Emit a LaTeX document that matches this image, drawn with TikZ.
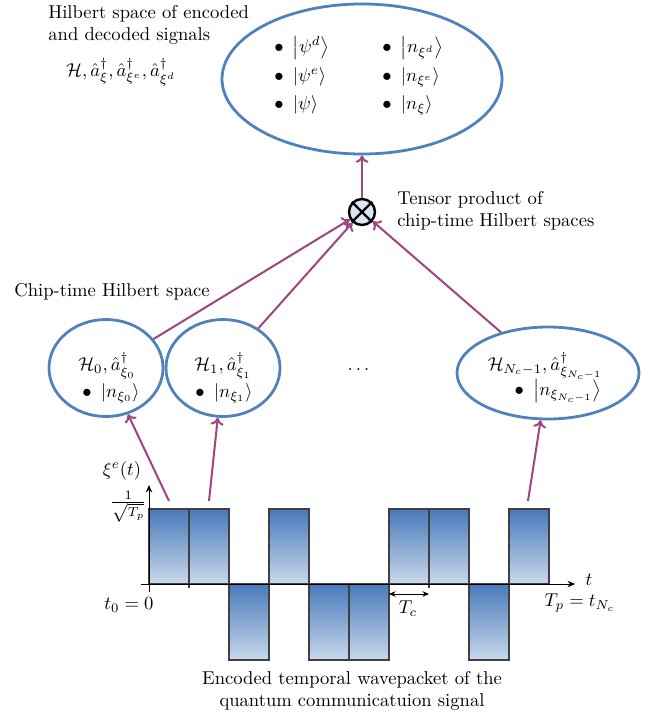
\documentclass[tikz,border=0pt]{standalone}
\usepackage{amsmath}
\usetikzlibrary{shapes.geometric,arrows.meta}
\definecolor{ellblue}{RGB}{79,129,189}
\definecolor{purp}{RGB}{158,72,128}
\definecolor{otfill}{RGB}{220,230,242}
\definecolor{bartop}{RGB}{72,122,186}
\definecolor{barbot}{RGB}{202,216,236}
\definecolor{barline}{RGB}{64,64,64}
\newdimen\pxu
\pxu=0.538pt
\tikzset{
  ell/.style={ellipse, draw=ellblue, line width=1.5pt, inner sep=0pt},
  parrow/.style={draw=purp, line width=1.1pt, -{To[length=4pt,width=7pt]}},
  bar/.style={draw=barline, line width=0.6pt, top color=bartop, bottom color=barbot},
  axis/.style={draw=black, line width=0.5pt, -{Stealth[length=4pt,width=3.5pt]}},
  lbl/.style={inner sep=0pt},
}
\begin{document}
\begin{tikzpicture}[x=0.538pt,y=-0.538pt]
\useasboundingbox (0,0) rectangle (652,715);

% big ellipse
\node[ell, minimum width={280*\pxu}, minimum height={150*\pxu}] (big) at (362,79) {};
\node[lbl, anchor=west] (p1) at (274,48) {$\bullet\ \left|\psi^d\right\rangle$};
\node[lbl, anchor=west] (p2) at (274,77) {$\bullet\ \left|\psi^e\right\rangle$};
\node[lbl, anchor=west] (p3) at (274,105) {$\bullet\ \left|\psi\right\rangle$};
\node[lbl, anchor=west] (n1) at (382,48) {$\bullet\ \left|n_{\xi^d}\right\rangle$};
\node[lbl, anchor=west] (n2) at (382,77) {$\bullet\ \left|n_{\xi^e}\right\rangle$};
\node[lbl, anchor=west] (n3) at (382,105) {$\bullet\ \left|n_{\xi}\right\rangle$};

\node[lbl, anchor=north west, align=left] (ttl) at (48,5) {Hilbert space of encoded\\and decoded signals};
\node[lbl] (ttm) at (121,72) {$\mathcal{H},\hat{a}^\dagger_\xi,\hat{a}^\dagger_{\xi^e},\hat{a}^\dagger_{\xi^d}$};

% tensor product
\node[circle, draw=black, line width=1.3pt, fill=otfill, minimum size={26*\pxu}, inner sep=0pt] (ot) at (362,212) {};
\draw[line width=1.3pt] (ot.45) -- (ot.225) (ot.135) -- (ot.-45);
\node[lbl, anchor=west, align=left] (ttx) at (397,211) {Tensor product of\\chip-time Hilbert spaces};

% chip-time ellipses
\node[lbl, anchor=west] (ctl) at (14,292) {Chip-time Hilbert space};
\node[ell, minimum width={114*\pxu}, minimum height={97*\pxu}] (h0) at (106,368) {};
\node[ell, minimum width={114*\pxu}, minimum height={97*\pxu}] (h1) at (223,368) {};
\node[ell, minimum width={182*\pxu}, minimum height={92*\pxu}] (hn) at (548,373) {};
\node[lbl] (h0a) at (107,366) {$\mathcal{H}_0,\hat{a}^\dagger_{\xi_0}$};
\node[lbl] (h0b) at (111,393) {$\bullet\ \left|n_{\xi_0}\right\rangle$};
\node[lbl] (h1a) at (223,366) {$\mathcal{H}_1,\hat{a}^\dagger_{\xi_1}$};
\node[lbl] (h1b) at (224,393) {$\bullet\ \left|n_{\xi_1}\right\rangle$};
\node[lbl] (hna) at (545,366) {$\mathcal{H}_{N_c-1},\hat{a}^\dagger_{\xi_{N_c-1}}$};
\node[lbl] (hnb) at (558,391) {$\bullet\ \left|n_{\xi_{N_c-1}}\right\rangle$};
\node[lbl] (dots) at (360,370) {$\dots$};

% arrows to tensor product and big ellipse
\draw[parrow] (h0) -- (ot);
\draw[parrow] (h1) -- (ot);
\draw[parrow] (hn) -- (ot);
\draw[parrow] (ot) -- (big);

% waveform bars
\draw[bar] (149,509) rectangle (189,584);
\draw[bar] (189,509) rectangle (229,584);
\draw[bar] (229,584) rectangle (269,660);
\draw[bar] (269,509) rectangle (309,584);
\draw[bar] (309,584) rectangle (349,660);
\draw[bar] (349,584) rectangle (389,660);
\draw[bar] (389,509) rectangle (429,584);
\draw[bar] (429,509) rectangle (469,584);
\draw[bar] (469,584) rectangle (509,660);
\draw[bar] (509,509) rectangle (549,584);
\draw[barline, line width=0.6pt] (189,584) -- (189,588) (429,584) -- (429,588);

% axes
\draw[axis] (141,584) -- (575,584);
\draw[axis] (149,592) -- (149,485);
\node[lbl] (tx) at (589,580) {$t$};
\node[lbl] (yl) at (122,471) {$\xi^e(t)$};
\node[lbl, anchor=east] (amp) at (147,507) {$\frac{1}{\sqrt{T_p}}$};
\node[lbl] (t0) at (129,605) {$t_0=0$};
\node[lbl] (tp) at (580,603) {$T_p=t_{N_c}$};
\coordinate (tca) at (389,594);
\coordinate (tcb) at (429,594);
\draw[line width=0.5pt, {Stealth[length=3.5pt,width=3pt]}-{Stealth[length=3.5pt,width=3pt]}] (tca) -- (tcb);
\node[lbl] (tc) at (408,609) {$T_c$};

% arrows from bars to chip ellipses
\coordinate (c1) at (169,501);
\coordinate (c2) at (209,501);
\coordinate (c3) at (528,501);
\draw[parrow] (c1) -- (h0);
\draw[parrow] (c2) -- (h1);
\draw[parrow] (c3) -- (hn);

\node[lbl, align=center] (cap) at (352,691) {Encoded temporal wavepacket of the\\quantum communicatuion signal};
\end{tikzpicture}
\end{document}
